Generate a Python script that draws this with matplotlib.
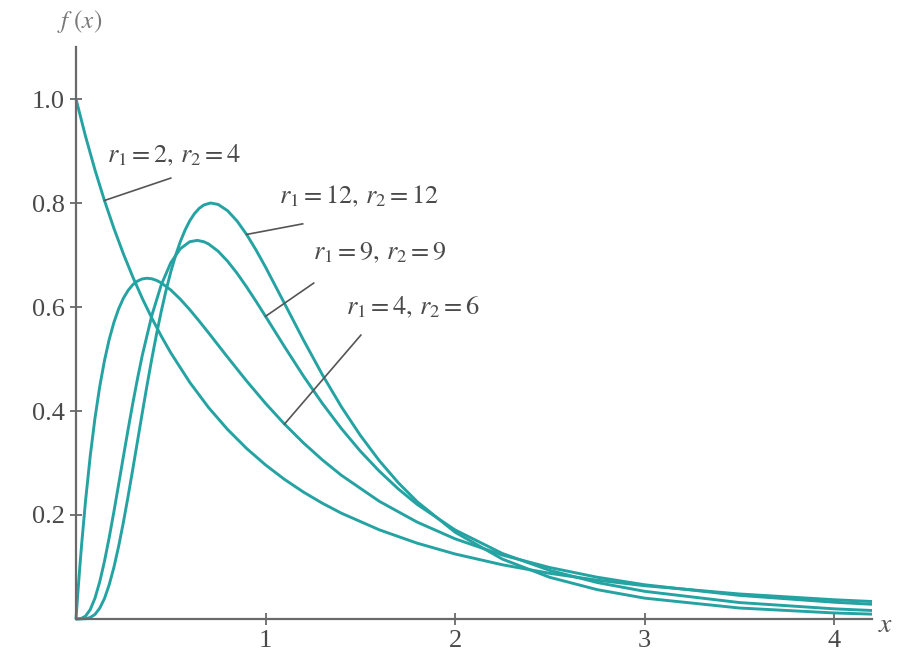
import matplotlib
matplotlib.use("Agg")
import matplotlib.pyplot as plt

plt.rcParams["mathtext.fontset"] = "stix"
plt.rcParams["font.family"] = ["Liberation Serif", "DejaVu Serif"]

# F densities, one series per (r1, r2) pair
xA = [0, 0.05, 0.1, 0.15, 0.2, 0.25, 0.3, 0.35, 0.4, 0.45, 0.5, 0.6, 0.7, 0.8, 0.9,
      1.0, 1.1, 1.2, 1.3, 1.4, 1.6, 1.8, 2.0, 2.25, 2.5, 2.75, 3.0, 3.5, 4.0, 4.2]
yA = [1.0, 0.9286, 0.8638, 0.8049, 0.7513, 0.7023, 0.6575, 0.6164, 0.5787, 0.5440,
      0.512, 0.4552, 0.4064, 0.3644, 0.3280, 0.2963, 0.2685, 0.2441, 0.2226, 0.2035,
      0.1715, 0.1458, 0.125, 0.1042, 0.0878, 0.0746, 0.064, 0.0481, 0.0370, 0.0336]

xB = [0, 0.01, 0.02, 0.03, 0.05, 0.075, 0.1, 0.125, 0.15, 0.175, 0.2, 0.225, 0.25,
      0.275, 0.3, 0.325, 0.35, 0.375, 0.4, 0.425, 0.45, 0.5, 0.55, 0.6, 0.65, 0.7,
      0.8, 0.9, 1.0, 1.1, 1.2, 1.3, 1.4, 1.6, 1.8, 2.0, 2.25, 2.5, 2.75, 3.0, 3.5,
      4.0, 4.2]
yB = [0, 0.0516, 0.0998, 0.1449, 0.2263, 0.3134, 0.3862, 0.4468, 0.4967, 0.5376,
      0.5705, 0.5966, 0.6169, 0.6321, 0.6430, 0.6501, 0.6541, 0.6554, 0.6543, 0.6512,
      0.6464, 0.6328, 0.6152, 0.5950, 0.5730, 0.5501, 0.5034, 0.4578, 0.4147, 0.3749,
      0.3387, 0.3059, 0.2764, 0.2264, 0.1863, 0.1542, 0.1229, 0.0989, 0.0803, 0.0658,
      0.0454, 0.0322, 0.0283]

xC = [0, 0.025, 0.05, 0.075, 0.1, 0.125, 0.15, 0.175, 0.2, 0.225, 0.25, 0.275, 0.3,
      0.325, 0.35, 0.4, 0.45, 0.5, 0.55, 0.6, 0.64, 0.675, 0.7, 0.75, 0.8, 0.85, 0.9,
      0.95, 1.0, 1.1, 1.2, 1.3, 1.4, 1.5, 1.6, 1.7, 1.8, 2.0, 2.25, 2.5, 2.75, 3.0,
      3.5, 4.0, 4.2]
yC = [0, 0.0006, 0.0054, 0.0180, 0.0400, 0.0713, 0.1107, 0.1565, 0.2066, 0.2592,
      0.3125, 0.3650, 0.4156, 0.4633, 0.5076, 0.5838, 0.6429, 0.6852, 0.7121, 0.7256,
      0.7282, 0.7255, 0.7212, 0.7073, 0.6880, 0.6648, 0.6387, 0.6109, 0.5821, 0.5238,
      0.4673, 0.4145, 0.3663, 0.3229, 0.2844, 0.2503, 0.2204, 0.1713, 0.1259, 0.0934,
      0.0701, 0.0532, 0.0316, 0.0195, 0.0163]

xD = [0, 0.05, 0.075, 0.1, 0.125, 0.15, 0.175, 0.2, 0.225, 0.25, 0.275, 0.3, 0.325,
      0.35, 0.375, 0.4, 0.425, 0.45, 0.475, 0.5, 0.525, 0.55, 0.575, 0.6, 0.625, 0.65,
      0.675, 0.71, 0.75, 0.8, 0.85, 0.9, 0.95, 1.0, 1.1, 1.2, 1.3, 1.4, 1.5, 1.6, 1.7,
      1.8, 2.0, 2.25, 2.5, 2.75, 3.0, 3.5, 4.0, 4.2]
yD = [0, 0.0005, 0.0028, 0.0088, 0.0206, 0.0393, 0.0657, 0.0995, 0.1400, 0.1860,
      0.2363, 0.2891, 0.3432, 0.3973, 0.4501, 0.5007, 0.5482, 0.5921, 0.6320, 0.6676,
      0.6988, 0.7255, 0.7477, 0.7658, 0.7797, 0.7898, 0.7964, 0.8001, 0.7973, 0.7852,
      0.7653, 0.7396, 0.7096, 0.6768, 0.6069, 0.5366, 0.4697, 0.4082, 0.3532, 0.3046,
      0.2622, 0.2256, 0.1669, 0.1151, 0.0801, 0.0564, 0.0401, 0.0211, 0.0116, 0.0093]

labels = [r"$r_1 = 2,\, r_2 = 4$", r"$r_1 = 12,\, r_2 = 12$",
          r"$r_1 = 9,\, r_2 = 9$", r"$r_1 = 4,\, r_2 = 6$"]

x_ticks = [1, 2, 3, 4]
x_ticklabels = ["1", "2", "3", "4"]
y_ticks = [0.2, 0.4, 0.6, 0.8, 1.0]
y_ticklabels = ["0.2", "0.4", "0.6", "0.8", "1.0"]

curve_color = "#25a3a3"
axis_color = "#6a6a6a"
text_color = "#4a4a4a"

fig = plt.figure(figsize=(9.06, 6.63), dpi=100)
ax = fig.add_axes([0.0839, 0.0664, 0.8786, 0.8626])

series = [(xA, yA), (xD, yD), (xC, yC), (xB, yB)]
for xs, ys in series:
    ax.plot(xs, ys, color=curve_color, lw=2.1, solid_joinstyle="round",
            solid_capstyle="butt", clip_on=False)

ax.set_xlim(0, 4.2)
ax.set_ylim(0, 1.10)

for side in ("top", "right"):
    ax.spines[side].set_visible(False)
for side in ("left", "bottom"):
    ax.spines[side].set_color(axis_color)
    ax.spines[side].set_linewidth(1.6)

ax.set_xticks(x_ticks)
ax.set_xticklabels(x_ticklabels)
ax.set_yticks(y_ticks)
ax.set_yticklabels(y_ticklabels)
ax.tick_params(direction="inout", length=8, width=1.3, color=axis_color,
               labelsize=19, labelcolor=text_color, pad=4)

# leader lines: (curve, x where the leader meets it, leader end) and label anchors
leaders = [
    (xA, yA, 0.15, (0.50, 0.848), (0.165, 0.892)),
    (xD, yD, 0.9, (1.196, 0.760), (1.07, 0.812)),
    (xC, yC, 1.0, (1.254, 0.646), (1.25, 0.704)),
    (xB, yB, 1.1, (1.503, 0.546), (1.423, 0.600)),
]
for (xs, ys, xm, end, txt), lab in zip(leaders, labels):
    i = xs.index(xm)
    ax.plot([xs[i], end[0]], [ys[i], end[1]], color="#555555", lw=1.2)
    ax.text(txt[0], txt[1], lab, fontsize=19, color=text_color,
            ha="left", va="center")

fig.text(0.088, 0.968, r"$f\ (x)$", fontsize=18, color="#777777",
         ha="center", va="center")
fig.text(0.977, 0.057, r"$x$", fontsize=20, color="#555555",
         ha="center", va="center")

fig.savefig("out.png", dpi=100, facecolor="white")
